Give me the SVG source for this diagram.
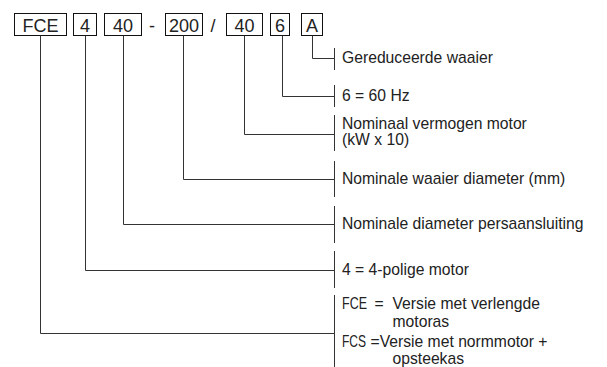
<svg xmlns="http://www.w3.org/2000/svg" width="607" height="367" viewBox="0 0 607 367">
<style>
.bx{fill:none;stroke:#111;stroke-width:1}
.code{font-family:"Liberation Sans",Arial,sans-serif;font-size:18px;fill:#222;text-anchor:middle}
.lbl{font-family:"Liberation Sans",Arial,sans-serif;font-size:15.7px;fill:#222}
.ln{fill:none;stroke:#333;stroke-width:1}
</style>
<rect width="607" height="367" fill="#fff"/>
<g id="codes">
<g id="n-fce"><rect class="bx" x="14.5" y="13.5" width="52" height="22"/><text class="code" x="40.5" y="32">FCE</text></g>
<g id="n-4"><rect class="bx" x="73.5" y="13.5" width="23" height="22"/><text class="code" x="85" y="32">4</text></g>
<g id="n-40a"><rect class="bx" x="104.5" y="13.5" width="37" height="22"/><text class="code" x="123" y="32">40</text></g>
<text class="code" x="152" y="32">-</text>
<g id="n-200"><rect class="bx" x="165.5" y="13.5" width="37" height="22"/><text class="code" x="184" y="32">200</text></g>
<text class="code" x="213" y="32">/</text>
<g id="n-40b"><rect class="bx" x="226.5" y="13.5" width="36" height="22"/><text class="code" x="244.5" y="32">40</text></g>
<g id="n-6"><rect class="bx" x="270.5" y="13.5" width="19" height="22"/><text class="code" x="280" y="32">6</text></g>
<g id="n-a"><rect class="bx" x="301.5" y="13.5" width="21" height="22"/><text class="code" x="312" y="32">A</text></g>
</g>
<g id="connectors">
<path class="ln" d="M312.5 35.5V58.5H334.5"/>
<path class="ln" d="M282.5 35.5V96.5H334.5"/>
<path class="ln" d="M244.5 35.5V134.5H334.5"/>
<path class="ln" d="M183.5 35.5V179.5H334.5"/>
<path class="ln" d="M123.5 35.5V224.5H334.5"/>
<path class="ln" d="M85.5 35.5V270.5H334.5"/>
<path class="ln" d="M40.5 35.5V333.5H334.5"/>
<path class="ln" d="M334.5 48V70"/>
<path class="ln" d="M334.5 85V107"/>
<path class="ln" d="M334.5 115V151"/>
<path class="ln" d="M334.5 161V197"/>
<path class="ln" d="M334.5 206V243"/>
<path class="ln" d="M334.5 251V288"/>
<path class="ln" d="M334.5 295V367"/>
</g>
<g id="labels">
<g id="l-a"><text class="lbl" x="342" y="63">Gereduceerde waaier</text></g>
<g id="l-6"><text class="lbl" x="342" y="101">6 = 60 Hz</text></g>
<g id="l-40b"><text class="lbl" x="342" y="129">Nominaal vermogen motor</text><text class="lbl" x="342" y="145">(kW x 10)</text></g>
<g id="l-200"><text class="lbl" x="342" y="184">Nominale waaier diameter (mm)</text></g>
<g id="l-40a"><text class="lbl" x="342" y="229">Nominale diameter persaansluiting</text></g>
<g id="l-4"><text class="lbl" x="342" y="275">4 = 4-polige motor</text></g>
<g id="l-fce">
<text class="lbl" x="342" y="308.5" textLength="25" lengthAdjust="spacingAndGlyphs">FCE</text>
<text class="lbl" x="374.5" y="308.5">=</text>
<text class="lbl" x="392.5" y="308.5">Versie met verlengde</text>
<text class="lbl" x="392.5" y="326.5">motoras</text>
<text class="lbl" x="342" y="346.5" textLength="24" lengthAdjust="spacingAndGlyphs">FCS</text>
<text class="lbl" x="370.5" y="346.5">=Versie met normmotor +</text>
<text class="lbl" x="392.5" y="364">opsteekas</text>
</g>
</g>
</svg>
